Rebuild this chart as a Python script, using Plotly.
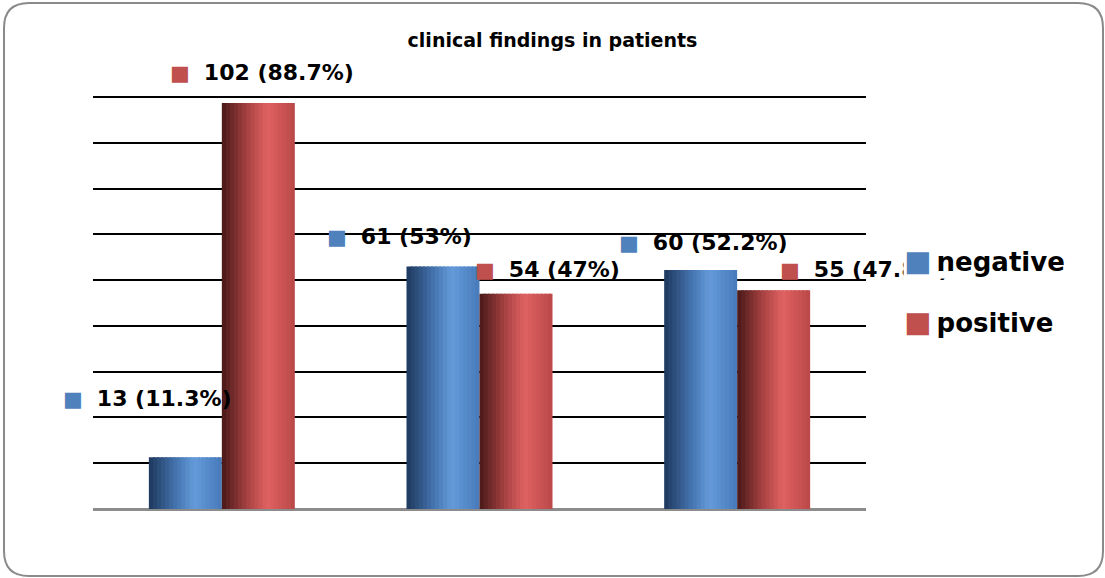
import plotly.graph_objects as go

# ---- data ----
categories = ["finding 1", "finding 2", "finding 3"]
negative_counts = [13, 61, 60]
negative_pct = [11.3, 53, 52.2]
positive_counts = [102, 54, 55]
positive_pct = [88.7, 47, 47.8]
series_names = ["negative", "positive"]

BLUE = "#4f81bd"
RED = "#c0504d"
blue_stops = [(0.0, (30, 56, 92)), (0.35, (66, 112, 170)), (0.62, (100, 155, 218)), (1.0, (72, 122, 186))]
red_stops = [(0.0, (72, 24, 24)), (0.35, (168, 66, 66)), (0.62, (224, 98, 98)), (1.0, (186, 72, 72))]


def interp(stops, t):
    for (t0, c0), (t1, c1) in zip(stops[:-1], stops[1:]):
        if t0 <= t <= t1:
            f = (t - t0) / (t1 - t0)
            return "rgb(%d,%d,%d)" % tuple(round(a + (b - a) * f) for a, b in zip(c0, c1))
    return "rgb(%d,%d,%d)" % stops[-1][1]


xs = list(range(len(categories)))
BAR_W = 0.2833
N = 18

fig = go.Figure()
for vals, start, stops, name in [
    (negative_pct, -BAR_W, blue_stops, series_names[0]),
    (positive_pct, 0.0, red_stops, series_names[1]),
]:
    sw = BAR_W / N
    for k in range(N):
        t = (k + 0.5) / N
        wd = min(sw * 1.6, BAR_W - k * sw)
        fig.add_trace(go.Bar(
            x=xs, y=vals, offset=start + k * sw, width=wd,
            marker=dict(color=interp(stops, t), line=dict(width=0)),
            name=name, showlegend=False, hovertext=categories, hoverinfo="text+y",
        ))


def fmt(v):
    return ("%g" % v)


label_font = dict(family="DejaVu Sans", size=22, color="black")
# label offsets (pixels) relative to the top centre of each bar
neg_shifts = [(-38, 59), (-44, 30), (3, 28)]
pos_shifts = [(4, 30), (31, 24), (91, 21)]
for i in xs:
    for vals, cnts, shifts, col, sgn in [
        (negative_pct, negative_counts, neg_shifts, BLUE, -1),
        (positive_pct, positive_counts, pos_shifts, RED, 1),
    ]:
        txt = ("<span style='color:%s;font-size:21px'>■</span>\u00a0\u00a0<b>%d (%s%%)</b>"
               % (col, cnts[i], fmt(vals[i])))
        fig.add_annotation(
            x=i + sgn * BAR_W / 2, y=vals[i], xref="x", yref="y", text=txt,
            showarrow=False, font=label_font,
            xshift=shifts[i][0], yshift=shifts[i][1],
        )

# plot area geometry (pixels)
PL, PR, PT, PB = 93, 866, 95, 509
pw, ph = PR - PL, PB - PT

# legend as annotations
for name, col, ypix in [(series_names[0], BLUE, 261), (series_names[1], RED, 322)]:
    fig.add_annotation(
        x=(903 - PL) / pw, y=(PB - ypix) / ph, xref="paper", yref="paper",
        xanchor="left", yanchor="middle",
        text="<span style='color:%s;font-size:29px'>■</span>\u2009<b>%s</b>" % (col, name),
        showarrow=False, font=dict(family="DejaVu Sans", size=26, color="black"),
        bgcolor="white", borderpad=0,
    )

# rounded frame around the chart
L, R = (4 - PL) / pw, (1103 - PL) / pw
T, B = (PB - 3) / ph, (PB - 576) / ph
rx, ry = 25 / pw, 25 / ph
path = (f"M{L+rx},{T} L{R-rx},{T} Q{R},{T} {R},{T-ry} L{R},{B+ry} Q{R},{B} {R-rx},{B} "
        f"L{L+rx},{B} Q{L},{B} {L},{B+ry} L{L},{T-ry} Q{L},{T} {L+rx},{T} Z")
fig.add_shape(type="path", path=path, xref="paper", yref="paper",
              line=dict(color="#8a8a8a", width=2), layer="below")

fig.update_layout(
    width=1105, height=578,
    margin=dict(l=PL, r=1105 - PR, t=PT, b=578 - PB),
    paper_bgcolor="white", plot_bgcolor="white",
    barmode="overlay",
    title=dict(text="<b>clinical findings in patients</b>", x=0.5, xanchor="center",
               y=1 - 40 / 578, yanchor="middle",
               font=dict(family="DejaVu Sans", size=19, color="black")),
    showlegend=False,
    xaxis=dict(range=[-0.5, 2.5], showticklabels=False, showgrid=False, zeroline=False,
               showline=False, ticks=""),
    yaxis=dict(range=[0, 90.44], dtick=10, showticklabels=False, showgrid=True,
               gridcolor="black", gridwidth=2, zeroline=True, zerolinecolor="#8c8c8c",
               zerolinewidth=3, showline=False, ticks=""),
)

fig.write_html("out.html", config={"displayModeBar": False},
               post_script="document.body.style.margin='0px';")
